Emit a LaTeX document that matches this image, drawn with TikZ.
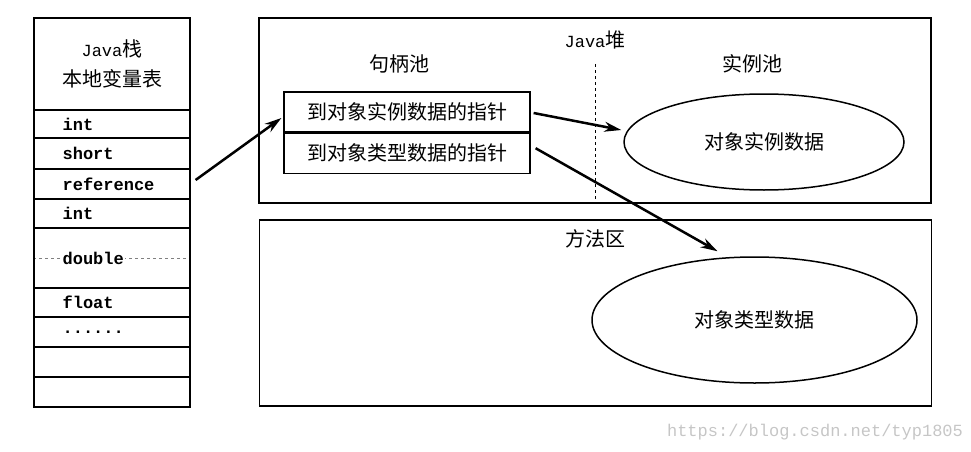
\documentclass[tikz,border=0pt]{standalone}
\usepackage{fontspec}
\setmainfont{Noto Sans CJK SC}
\newfontfamily\stkmono{Liberation Mono}
\usepackage{tikz}
\usetikzlibrary{arrows.meta,positioning,shapes.geometric,backgrounds}

\newcommand{\sixdots}{......}

\begin{document}
\begin{tikzpicture}[
    x=1pt, y=-1pt,
    cell/.style={draw, line width=1.2pt, minimum width=156pt, inner sep=0pt},
    var/.style={font=\stkmono\bfseries\fontsize{17}{20}\selectfont, fill=white, inner sep=1pt, anchor=west},
    area/.style={draw, line width=1.2pt, minimum width=672pt},
    ttl/.style={font=\fontsize{20}{24}\selectfont},
    ptr/.style={draw, line width=1.2pt, minimum width=246pt, minimum height=40pt, font=\fontsize{20}{24}\selectfont},
    data/.style={draw, ellipse, line width=1.5pt, font=\fontsize{20}{24}\selectfont},
    arr/.style={-{Stealth[length=17pt,width=10pt]}, line width=2.5pt}
  ]
  \useasboundingbox (0,0) rectangle (971,452);

  % Java stack
  \node[cell, minimum height=92pt, align=center, ttl] (hdr) at (112,64)
    {{\stkmono\fontsize{17}{20}\selectfont Java}栈\\[6pt]本地变量表};
  \foreach \y/\h/\t/\n in {124/28/int/r1, 153.5/31/short/r2, 184/30/reference/r3,
      213.5/29/int/r4, 258/60/double/r5, 302.5/29/float/r6, 332/30/\sixdots/r7,
      362/30/{}/r8, 392/30/{}/r9} {
    \node[cell, minimum height=\h pt] (\n) at (112,\y) {};
    \node[var, right=28pt of \n.west] (\n t) {\t};
  }
  \begin{scope}[on background layer]
    \draw[dashed, line width=0.6pt, gray] (r5.west) -- (r5.east);
  \end{scope}

  % Java heap
  \node[area, minimum height=185pt] (heap) at (595,110.5) {};
  \node[ttl] (heapt) at (595,40) {{\stkmono\fontsize{17}{20}\selectfont Java}堆};
  \node[ttl] (pool1) at (399,64) {句柄池};
  \node[ttl] (pool2) at (752,64) {实例池};
  \coordinate (dtop) at (595,64);
  \draw[dashed, line width=1pt] (dtop) -- (heap.south);

  \node[ptr] (hp1) at (407,112) {到对象实例数据的指针};
  \node[ptr, below=0pt of hp1] (hp2) {到对象类型数据的指针};

  \node[data, minimum width=280pt, minimum height=96pt] (e1) at (764,142) {对象实例数据};

  % Method area
  \node[area, minimum height=186pt] (meth) at (595.5,313) {};
  \node[ttl] (metht) at (595,239) {方法区};
  \node[data, minimum width=325pt, minimum height=126pt] (e2) at (754.5,320) {对象类型数据};

  % Edges
  \draw[arr] ([xshift=5pt,yshift=4pt]r3.east) -- ([xshift=-2pt,yshift=-6pt]hp1.west);
  \draw[arr] ([xshift=3pt,yshift=-1pt]hp1.east) -- ([xshift=-2pt,yshift=12pt]e1.west);
  \draw[arr] ([xshift=5pt,yshift=5pt]hp2.east) -- ([xshift=-37pt,yshift=5pt]e2.north);

  \node[font=\stkmono\fontsize{17}{20}\selectfont, text=gray!45] (wm) at (815,432) {https://blog.csdn.net/typ1805};
\end{tikzpicture}
\end{document}
